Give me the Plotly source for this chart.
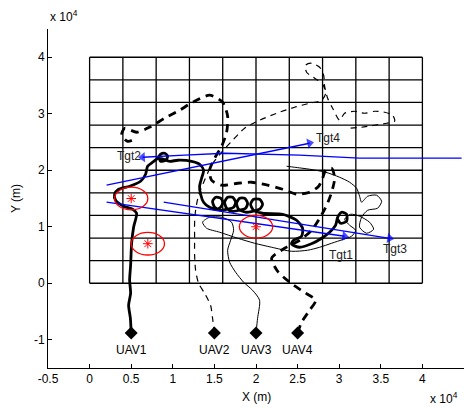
import plotly.graph_objects as go

# ---------------- data (metres) ----------------
grid_vals = [0, 4000, 8000, 12000, 16000, 20000, 24000, 28000, 32000, 36000, 40000]

x_tick_vals = [-5000, 0, 5000, 10000, 15000, 20000, 25000, 30000, 35000, 40000, 45000]
x_tick_text = ["-0.5", "0", "0.5", "1", "1.5", "2", "2.5", "3", "3.5", "4", "4.5"]
y_tick_vals = [-10000, 0, 10000, 20000, 30000, 40000]
y_tick_text = ["-1", "0", "1", "2", "3", "4"]

uav_names = ["UAV1", "UAV2", "UAV3", "UAV4"]
uav_start_x = [5000, 15000, 20000, 25000]
uav_start_y = [-8800, -8800, -8800, -8800]
uav_label_y = -11900

uav1_x = [5000, 4900, 4690, 4930, 4810, 4930, 5050, 5290, 5650, 5170, 4090, 3130, 3000, 3490, 4810, 6130,
          6730, 6970, 7570, 8170, 8530, 9020, 9380, 9140, 8530, 8410, 9620, 10580, 12260, 13220, 13700,
          13460, 13220, 13340, 13700, 14420, 15150,
          15750, 15990, 15750, 15150, 14780, 15030, 15750,
          16590, 17310, 17550, 17190, 16590, 16230, 16470, 17190,
          18030, 18750, 18990, 18630, 18030, 17670, 17910, 18750,
          19590, 20430, 20790, 20430, 19710, 19350, 19710, 20790,
          23200, 24880, 25600, 25480, 24520, 24280, 25240, 26800, 27890, 28850, 29570, 29810, 30290,
          30890, 30890, 30170, 29810]
uav1_y = [-8800, -6200, -3890, -1770, 530, 3190, 7080, 9910, 12390, 13100, 13630, 14690, 15750, 16640, 17170,
          18050, 19290, 20710, 21420, 22130, 22830, 23010, 22480, 21770, 21590, 22130, 21590, 21770, 21590,
          21060, 20000, 18590, 17170, 15750, 14340, 13450, 13100,
          13450, 14340, 15050, 15220, 14510, 13450, 12920,
          13100, 13450, 14340, 15220, 15220, 14340, 13280, 12740,
          12920, 13280, 14160, 15050, 15050, 14160, 13100, 12570,
          12740, 13100, 13980, 14870, 14870, 13980, 12920, 12390,
          12210, 11150, 9740, 8320, 7610, 6900, 6370, 7080, 7970, 9030, 10270, 11680, 12570,
          12210, 10970, 10620, 11330]

uav2_x = [15000, 14780, 14540, 13820, 13100, 12740, 12620, 12620, 12620, 12740, 13100, 13820, 14660, 15870,
          17190, 18630, 20430, 22480, 24640, 26440, 27890, 28370, 28010, 27050, 26080, 25960, 26680, 27650,
          28130, 28250, 28610, 29210, 30050, 30650, 31850, 33060, 34260, 35460, 36420, 36660, 35700, 34260,
          32690, 31250]
uav2_y = [-8800, -6200, -3890, -1770, 0, 2300, 4960, 7970, 10800, 12920, 15580, 18230, 20890, 23190,
          25310, 27440, 28850, 30090, 31150, 31860, 32390, 33630, 35220, 36290, 37350, 38590, 38940, 38230,
          36820, 34870, 32740, 30980, 28850, 30090, 30440, 30090, 30440, 30270, 29740, 28670, 28320, 27970,
          27610, 27440]

uav3_x = [20000, 20190, 20430, 19590, 18510, 17550, 16830, 16590, 16950, 17310, 17070, 15870, 14420, 13580,
          14060, 15630, 17790, 19830, 21880, 24280, 26200, 27650, 29090, 30530, 31490, 31970, 31250, 30650,
          31370, 32450, 33650, 34140, 33300, 32450, 32690, 33420, 34620, 35100, 34500, 33420, 32690, 32450,
          32090, 31250, 30050, 28370, 26440, 24640, 23680]
uav3_y = [-8800, -6200, -3010, -1240, 180, 1950, 3720, 5840, 7610, 9380, 10800, 11680, 11680, 10800,
          9740, 9030, 7970, 7080, 6370, 5660, 5840, 6370, 7080, 7790, 8320, 9380, 10270, 11330,
          12210, 11860, 10800, 9560, 8850, 9910, 11680, 12920, 13280, 14510, 15580, 15400, 14340, 15400,
          16820, 17880, 18760, 19650, 20180, 20530, 20710]

uav4_x = [25000, 25480, 26440, 27170, 25600, 24040, 22600, 21880, 23440, 25240, 26680, 27650, 28490, 29090,
          29450, 29090, 28370, 28010, 27530, 26440, 24880, 23200, 21400, 19470, 17790, 15870, 14660, 14420,
          15030, 15870, 16470, 16590, 15990, 14420, 12380, 10820, 9020, 7210, 5650, 4210, 3850, 4570, 5410]
uav4_y = [-8800, -6900, -4780, -3010, -1420, 180, 2120, 4430, 6200, 7610, 9380, 11500, 13810, 16110,
          18590, 20360, 20000, 18590, 17170, 16110, 15750, 16640, 17350, 17880, 17700, 17350, 18230, 20000,
          22130, 24250, 26730, 29560, 32040, 33280, 32040, 30620, 29210, 27610, 26730, 27440, 26200, 25130, 25490]

tgt1_x = [2040, 30650]
tgt1_y = [14340, 8320]
tgt2_x = [44710, 39670, 32450, 25240, 20430, 16230, 11420, 6370]
tgt2_y = [22130, 22130, 22130, 22660, 22830, 23010, 22660, 22300]
tgt3_x = [8900, 36060]
tgt3_y = [14340, 7960]
tgt4_x = [2040, 26440]
tgt4_y = [17350, 24780]

tgt_names = ["Tgt1", "Tgt2", "Tgt3", "Tgt4"]
tgt_label_x = [30170, 4690, 36660, 28610]
tgt_label_y = [4960, 22480, 6020, 25670]

threat_x = [5000, 7000, 20000]
threat_y = [15000, 7000, 10000]
threat_r = 2000

FONT = "Liberation Sans, Arial, Helvetica, sans-serif"

fig = go.Figure()

# grid
gx, gy = [], []
for v in grid_vals:
    gx += [v, v, None]
    gy += [grid_vals[0], grid_vals[-1], None]
    gx += [grid_vals[0], grid_vals[-1], None]
    gy += [v, v, None]
fig.add_trace(go.Scatter(x=gx, y=gy, mode="lines", line=dict(color="black", width=1.3),
                         hoverinfo="skip", showlegend=False))

# UAV trajectories
paths = [
    (uav1_x, uav1_y, dict(color="black", width=2.8, dash="solid")),
    (uav2_x, uav2_y, dict(color="black", width=1.2, dash="6px,5px")),
    (uav3_x, uav3_y, dict(color="black", width=1.0, dash="solid")),
    (uav4_x, uav4_y, dict(color="black", width=2.8, dash="8px,6px")),
]
for px, py, ln in paths:
    ln = dict(ln, shape="spline", smoothing=0.7)
    fig.add_trace(go.Scatter(x=px, y=py, mode="lines", line=ln, showlegend=False))

# targets
for tx, ty in [(tgt1_x, tgt1_y), (tgt2_x, tgt2_y), (tgt3_x, tgt3_y), (tgt4_x, tgt4_y)]:
    fig.add_trace(go.Scatter(x=tx, y=ty, mode="lines", line=dict(color="#0000ff", width=1.3),
                             showlegend=False))
    fig.add_trace(go.Scatter(x=tx[-2:], y=ty[-2:], mode="markers",
                             marker=dict(symbol="triangle-up", size=[0, 9], color="#0000ff",
                                         angleref="previous", line=dict(width=0)),
                             showlegend=False))

# threats
fig.add_trace(go.Scatter(x=threat_x, y=threat_y, mode="markers",
                         marker=dict(symbol="asterisk-open", size=8, color="red",
                                     line=dict(color="red", width=1)),
                         showlegend=False))
for cx, cy in zip(threat_x, threat_y):
    fig.add_shape(type="circle", xref="x", yref="y", x0=cx - threat_r, x1=cx + threat_r,
                  y0=cy - threat_r, y1=cy + threat_r, line=dict(color="red", width=1.3))

# UAV start points
fig.add_trace(go.Scatter(x=uav_start_x, y=uav_start_y, mode="markers",
                         marker=dict(symbol="diamond", size=10, color="black"), showlegend=False))

for name, x in zip(uav_names, uav_start_x):
    fig.add_annotation(x=x, y=uav_label_y, text=name, showarrow=False, xref="x", yref="y",
                       font=dict(family=FONT, size=12, color="black"))
for name, x, y in zip(tgt_names, tgt_label_x, tgt_label_y):
    fig.add_annotation(x=x, y=y, text=name, showarrow=False, xref="x", yref="y",
                       font=dict(family=FONT, size=12, color="#222222"))

# exponent labels and axis titles
fig.add_annotation(x=0, y=1, xref="paper", yref="paper", xanchor="left", yanchor="bottom",
                   text="x 10<sup>4</sup>", showarrow=False, yshift=3,
                   font=dict(family=FONT, size=12, color="black"))
fig.add_annotation(x=0.99, y=0, xref="paper", yref="paper", xanchor="right", yanchor="top",
                   text="x 10<sup>4</sup>", showarrow=False, yshift=-20,
                   font=dict(family=FONT, size=12, color="black"))
fig.add_annotation(x=0.5, y=0, xref="paper", yref="paper", xanchor="center", yanchor="top",
                   text="X (m)", showarrow=False, yshift=-20,
                   font=dict(family=FONT, size=12, color="black"))
fig.add_annotation(x=-0.078, y=0.5, xref="paper", yref="paper", xanchor="center", yanchor="middle",
                   text="Y (m)", showarrow=False, textangle=-90,
                   font=dict(family=FONT, size=12, color="black"))

axis_common = dict(showgrid=False, zeroline=False, showline=True, linecolor="black", linewidth=1,
                   ticks="inside", ticklen=4, tickcolor="black", tickwidth=1,
                   tickfont=dict(family=FONT, size=12, color="black"), mirror=False)

fig.update_layout(
    width=471, height=408,
    margin=dict(l=48, r=7, t=29, b=40),
    paper_bgcolor="white", plot_bgcolor="white",
    showlegend=False,
    xaxis=dict(range=[-5000, 45000], tickvals=x_tick_vals, ticktext=x_tick_text, **axis_common),
    yaxis=dict(range=[-15000, 45000], tickvals=y_tick_vals, ticktext=y_tick_text, **axis_common),
)

fig.write_html("out.html")
